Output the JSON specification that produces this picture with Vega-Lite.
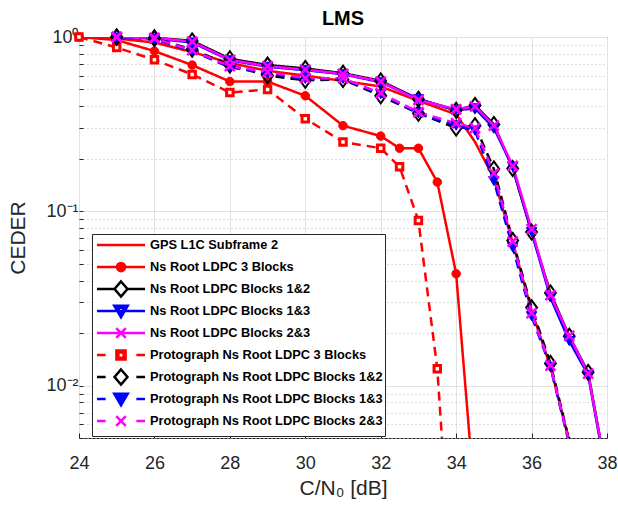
{
  "$schema": "https://vega.github.io/schema/vega-lite/v6.json",
  "width": 528,
  "height": 401,
  "autosize": {"type": "none"},
  "padding": {"left": 79, "top": 37, "right": 11, "bottom": 67},
  "background": "white",
  "config": {"view": {"stroke": "#262626", "strokeWidth": 1}, "font": "Liberation Sans"},
  "title": {"text": "LMS", "fontSize": 20, "fontWeight": "bold", "font": "Liberation Sans", "color": "black", "offset": -3, "anchor": "middle", "frame": "group"},
  "data": {"values": [
    {"s": "GPS L1C Subframe 2", "x": 24, "y": 1.0},
    {"s": "GPS L1C Subframe 2", "x": 25, "y": 0.98},
    {"s": "GPS L1C Subframe 2", "x": 26, "y": 0.93},
    {"s": "GPS L1C Subframe 2", "x": 27, "y": 0.82},
    {"s": "GPS L1C Subframe 2", "x": 28, "y": 0.71},
    {"s": "GPS L1C Subframe 2", "x": 29, "y": 0.64},
    {"s": "GPS L1C Subframe 2", "x": 30, "y": 0.6},
    {"s": "GPS L1C Subframe 2", "x": 31, "y": 0.56},
    {"s": "GPS L1C Subframe 2", "x": 32, "y": 0.52},
    {"s": "GPS L1C Subframe 2", "x": 33, "y": 0.43},
    {"s": "GPS L1C Subframe 2", "x": 34, "y": 0.36},
    {"s": "GPS L1C Subframe 2", "x": 34.5, "y": 0.25},
    {"s": "GPS L1C Subframe 2", "x": 35, "y": 0.155},
    {"s": "GPS L1C Subframe 2", "x": 35.5, "y": 0.066},
    {"s": "GPS L1C Subframe 2", "x": 36, "y": 0.027},
    {"s": "GPS L1C Subframe 2", "x": 36.5, "y": 0.0128},
    {"s": "GPS L1C Subframe 2", "x": 37, "y": 0.0048},
    {"s": "Ns Root LDPC 3 Blocks", "x": 24, "y": 1.0},
    {"s": "Ns Root LDPC 3 Blocks", "x": 25, "y": 0.96},
    {"s": "Ns Root LDPC 3 Blocks", "x": 26, "y": 0.83},
    {"s": "Ns Root LDPC 3 Blocks", "x": 27, "y": 0.69},
    {"s": "Ns Root LDPC 3 Blocks", "x": 28, "y": 0.555},
    {"s": "Ns Root LDPC 3 Blocks", "x": 29, "y": 0.555},
    {"s": "Ns Root LDPC 3 Blocks", "x": 30, "y": 0.46},
    {"s": "Ns Root LDPC 3 Blocks", "x": 31, "y": 0.31},
    {"s": "Ns Root LDPC 3 Blocks", "x": 32, "y": 0.27},
    {"s": "Ns Root LDPC 3 Blocks", "x": 32.5, "y": 0.23},
    {"s": "Ns Root LDPC 3 Blocks", "x": 33, "y": 0.23},
    {"s": "Ns Root LDPC 3 Blocks", "x": 33.5, "y": 0.147},
    {"s": "Ns Root LDPC 3 Blocks", "x": 34, "y": 0.0438},
    {"s": "Ns Root LDPC 3 Blocks", "x": 34.5, "y": 0.0021},
    {"s": "Ns Root LDPC Blocks 1&2", "x": 25, "y": 1.0},
    {"s": "Ns Root LDPC Blocks 1&2", "x": 26, "y": 0.99},
    {"s": "Ns Root LDPC Blocks 1&2", "x": 27, "y": 0.95},
    {"s": "Ns Root LDPC Blocks 1&2", "x": 28, "y": 0.75},
    {"s": "Ns Root LDPC Blocks 1&2", "x": 29, "y": 0.69},
    {"s": "Ns Root LDPC Blocks 1&2", "x": 30, "y": 0.66},
    {"s": "Ns Root LDPC Blocks 1&2", "x": 31, "y": 0.62},
    {"s": "Ns Root LDPC Blocks 1&2", "x": 32, "y": 0.56},
    {"s": "Ns Root LDPC Blocks 1&2", "x": 33, "y": 0.44},
    {"s": "Ns Root LDPC Blocks 1&2", "x": 34, "y": 0.38},
    {"s": "Ns Root LDPC Blocks 1&2", "x": 34.5, "y": 0.405},
    {"s": "Ns Root LDPC Blocks 1&2", "x": 35, "y": 0.315},
    {"s": "Ns Root LDPC Blocks 1&2", "x": 35.5, "y": 0.176},
    {"s": "Ns Root LDPC Blocks 1&2", "x": 36, "y": 0.076},
    {"s": "Ns Root LDPC Blocks 1&2", "x": 36.5, "y": 0.034},
    {"s": "Ns Root LDPC Blocks 1&2", "x": 37, "y": 0.0192},
    {"s": "Ns Root LDPC Blocks 1&2", "x": 37.5, "y": 0.0119},
    {"s": "Ns Root LDPC Blocks 1&2", "x": 38, "y": 0.003},
    {"s": "Ns Root LDPC Blocks 1&3", "x": 25, "y": 0.99},
    {"s": "Ns Root LDPC Blocks 1&3", "x": 26, "y": 0.98},
    {"s": "Ns Root LDPC Blocks 1&3", "x": 27, "y": 0.93},
    {"s": "Ns Root LDPC Blocks 1&3", "x": 28, "y": 0.735},
    {"s": "Ns Root LDPC Blocks 1&3", "x": 29, "y": 0.675},
    {"s": "Ns Root LDPC Blocks 1&3", "x": 30, "y": 0.645},
    {"s": "Ns Root LDPC Blocks 1&3", "x": 31, "y": 0.612},
    {"s": "Ns Root LDPC Blocks 1&3", "x": 32, "y": 0.55},
    {"s": "Ns Root LDPC Blocks 1&3", "x": 33, "y": 0.44},
    {"s": "Ns Root LDPC Blocks 1&3", "x": 34, "y": 0.38},
    {"s": "Ns Root LDPC Blocks 1&3", "x": 34.5, "y": 0.39},
    {"s": "Ns Root LDPC Blocks 1&3", "x": 35, "y": 0.3},
    {"s": "Ns Root LDPC Blocks 1&3", "x": 35.5, "y": 0.18},
    {"s": "Ns Root LDPC Blocks 1&3", "x": 36, "y": 0.076},
    {"s": "Ns Root LDPC Blocks 1&3", "x": 36.5, "y": 0.032},
    {"s": "Ns Root LDPC Blocks 1&3", "x": 37, "y": 0.018},
    {"s": "Ns Root LDPC Blocks 1&3", "x": 37.5, "y": 0.0115},
    {"s": "Ns Root LDPC Blocks 1&3", "x": 38, "y": 0.0029},
    {"s": "Ns Root LDPC Blocks 2&3", "x": 25, "y": 1.0},
    {"s": "Ns Root LDPC Blocks 2&3", "x": 26, "y": 0.99},
    {"s": "Ns Root LDPC Blocks 2&3", "x": 27, "y": 0.94},
    {"s": "Ns Root LDPC Blocks 2&3", "x": 28, "y": 0.74},
    {"s": "Ns Root LDPC Blocks 2&3", "x": 29, "y": 0.68},
    {"s": "Ns Root LDPC Blocks 2&3", "x": 30, "y": 0.65},
    {"s": "Ns Root LDPC Blocks 2&3", "x": 31, "y": 0.615},
    {"s": "Ns Root LDPC Blocks 2&3", "x": 32, "y": 0.555},
    {"s": "Ns Root LDPC Blocks 2&3", "x": 33, "y": 0.435},
    {"s": "Ns Root LDPC Blocks 2&3", "x": 34, "y": 0.385},
    {"s": "Ns Root LDPC Blocks 2&3", "x": 34.5, "y": 0.4},
    {"s": "Ns Root LDPC Blocks 2&3", "x": 35, "y": 0.31},
    {"s": "Ns Root LDPC Blocks 2&3", "x": 35.5, "y": 0.182},
    {"s": "Ns Root LDPC Blocks 2&3", "x": 36, "y": 0.079},
    {"s": "Ns Root LDPC Blocks 2&3", "x": 36.5, "y": 0.033},
    {"s": "Ns Root LDPC Blocks 2&3", "x": 37, "y": 0.0193},
    {"s": "Ns Root LDPC Blocks 2&3", "x": 37.5, "y": 0.0117},
    {"s": "Ns Root LDPC Blocks 2&3", "x": 38, "y": 0.003},
    {"s": "Protograph Ns Root LDPC 3 Blocks", "x": 24, "y": 1.0},
    {"s": "Protograph Ns Root LDPC 3 Blocks", "x": 25, "y": 0.87},
    {"s": "Protograph Ns Root LDPC 3 Blocks", "x": 26, "y": 0.74},
    {"s": "Protograph Ns Root LDPC 3 Blocks", "x": 27, "y": 0.61},
    {"s": "Protograph Ns Root LDPC 3 Blocks", "x": 28, "y": 0.48},
    {"s": "Protograph Ns Root LDPC 3 Blocks", "x": 29, "y": 0.5},
    {"s": "Protograph Ns Root LDPC 3 Blocks", "x": 30, "y": 0.34},
    {"s": "Protograph Ns Root LDPC 3 Blocks", "x": 31, "y": 0.25},
    {"s": "Protograph Ns Root LDPC 3 Blocks", "x": 32, "y": 0.23},
    {"s": "Protograph Ns Root LDPC 3 Blocks", "x": 32.5, "y": 0.18},
    {"s": "Protograph Ns Root LDPC 3 Blocks", "x": 33, "y": 0.0885},
    {"s": "Protograph Ns Root LDPC 3 Blocks", "x": 33.5, "y": 0.0125},
    {"s": "Protograph Ns Root LDPC 3 Blocks", "x": 34, "y": 0.0003},
    {"s": "Protograph Ns Root LDPC Blocks 1&2", "x": 25, "y": 1.0},
    {"s": "Protograph Ns Root LDPC Blocks 1&2", "x": 26, "y": 0.98},
    {"s": "Protograph Ns Root LDPC Blocks 1&2", "x": 27, "y": 0.85},
    {"s": "Protograph Ns Root LDPC Blocks 1&2", "x": 28, "y": 0.69},
    {"s": "Protograph Ns Root LDPC Blocks 1&2", "x": 29, "y": 0.6},
    {"s": "Protograph Ns Root LDPC Blocks 1&2", "x": 30, "y": 0.565},
    {"s": "Protograph Ns Root LDPC Blocks 1&2", "x": 31, "y": 0.57},
    {"s": "Protograph Ns Root LDPC Blocks 1&2", "x": 32, "y": 0.46},
    {"s": "Protograph Ns Root LDPC Blocks 1&2", "x": 33, "y": 0.365},
    {"s": "Protograph Ns Root LDPC Blocks 1&2", "x": 34, "y": 0.3},
    {"s": "Protograph Ns Root LDPC Blocks 1&2", "x": 34.5, "y": 0.31},
    {"s": "Protograph Ns Root LDPC Blocks 1&2", "x": 35, "y": 0.175},
    {"s": "Protograph Ns Root LDPC Blocks 1&2", "x": 35.5, "y": 0.068},
    {"s": "Protograph Ns Root LDPC Blocks 1&2", "x": 36, "y": 0.028},
    {"s": "Protograph Ns Root LDPC Blocks 1&2", "x": 36.5, "y": 0.0134},
    {"s": "Protograph Ns Root LDPC Blocks 1&2", "x": 37, "y": 0.0048},
    {"s": "Protograph Ns Root LDPC Blocks 1&3", "x": 25, "y": 0.99},
    {"s": "Protograph Ns Root LDPC Blocks 1&3", "x": 26, "y": 0.97},
    {"s": "Protograph Ns Root LDPC Blocks 1&3", "x": 27, "y": 0.83},
    {"s": "Protograph Ns Root LDPC Blocks 1&3", "x": 28, "y": 0.67},
    {"s": "Protograph Ns Root LDPC Blocks 1&3", "x": 29, "y": 0.62},
    {"s": "Protograph Ns Root LDPC Blocks 1&3", "x": 30, "y": 0.575},
    {"s": "Protograph Ns Root LDPC Blocks 1&3", "x": 31, "y": 0.575},
    {"s": "Protograph Ns Root LDPC Blocks 1&3", "x": 32, "y": 0.47},
    {"s": "Protograph Ns Root LDPC Blocks 1&3", "x": 33, "y": 0.365},
    {"s": "Protograph Ns Root LDPC Blocks 1&3", "x": 34, "y": 0.31},
    {"s": "Protograph Ns Root LDPC Blocks 1&3", "x": 34.5, "y": 0.29},
    {"s": "Protograph Ns Root LDPC Blocks 1&3", "x": 35, "y": 0.149},
    {"s": "Protograph Ns Root LDPC Blocks 1&3", "x": 35.5, "y": 0.062},
    {"s": "Protograph Ns Root LDPC Blocks 1&3", "x": 36, "y": 0.025},
    {"s": "Protograph Ns Root LDPC Blocks 1&3", "x": 36.5, "y": 0.0128},
    {"s": "Protograph Ns Root LDPC Blocks 1&3", "x": 37, "y": 0.0046},
    {"s": "Protograph Ns Root LDPC Blocks 2&3", "x": 25, "y": 1.0},
    {"s": "Protograph Ns Root LDPC Blocks 2&3", "x": 26, "y": 0.98},
    {"s": "Protograph Ns Root LDPC Blocks 2&3", "x": 27, "y": 0.84},
    {"s": "Protograph Ns Root LDPC Blocks 2&3", "x": 28, "y": 0.68},
    {"s": "Protograph Ns Root LDPC Blocks 2&3", "x": 29, "y": 0.63},
    {"s": "Protograph Ns Root LDPC Blocks 2&3", "x": 30, "y": 0.58},
    {"s": "Protograph Ns Root LDPC Blocks 2&3", "x": 31, "y": 0.58},
    {"s": "Protograph Ns Root LDPC Blocks 2&3", "x": 32, "y": 0.476},
    {"s": "Protograph Ns Root LDPC Blocks 2&3", "x": 33, "y": 0.37},
    {"s": "Protograph Ns Root LDPC Blocks 2&3", "x": 34, "y": 0.32},
    {"s": "Protograph Ns Root LDPC Blocks 2&3", "x": 34.5, "y": 0.3},
    {"s": "Protograph Ns Root LDPC Blocks 2&3", "x": 35, "y": 0.165},
    {"s": "Protograph Ns Root LDPC Blocks 2&3", "x": 35.5, "y": 0.067},
    {"s": "Protograph Ns Root LDPC Blocks 2&3", "x": 36, "y": 0.026},
    {"s": "Protograph Ns Root LDPC Blocks 2&3", "x": 36.5, "y": 0.013},
    {"s": "Protograph Ns Root LDPC Blocks 2&3", "x": 37, "y": 0.0047}
  ]},
  "encoding": {
    "x": {
      "field": "x", "type": "quantitative", "title": "C/N₀ [dB]",
      "scale": {"domain": [24, 38], "nice": false, "zero": false},
      "axis": {
        "values": [24, 26, 28, 30, 32, 34, 36, 38],
        "grid": true, "gridColor": "#e2e2e2", "gridWidth": 1,
        "domain": false, "tickSize": -5, "tickColor": "#262626",
        "labelFontSize": 18, "labelColor": "#262626", "labelFont": "Liberation Sans",
        "labelPadding": 21, "labelFlush": false, "labelOverlap": false,
        "titleFontSize": 21, "titleFontWeight": "normal", "titleColor": "#262626",
        "titleFont": "Liberation Sans", "titlePadding": 5
      }
    },
    "y": {
      "field": "y", "type": "quantitative", "title": "CEDER",
      "scale": {"type": "log", "domain": [0.005, 1], "nice": false},
      "axis": {
        "values": [0.005, 0.006, 0.007, 0.008, 0.009, 0.01, 0.02, 0.03, 0.04, 0.05, 0.06, 0.07, 0.08, 0.09, 0.1, 0.2, 0.3, 0.4, 0.5, 0.6, 0.7, 0.8, 0.9, 1],
        "labelExpr": "datum.value == 1 ? '10⁰' : (datum.value == 0.1 ? '10⁻¹' : (datum.value == 0.01 ? '10⁻²' : ''))",
        "grid": true,
        "gridColor": {"condition": {"test": "datum.value == 1 || datum.value == 0.1 || datum.value == 0.01", "value": "#e2e2e2"}, "value": "#bdbdbd"},
        "gridDash": {"condition": {"test": "datum.value == 1 || datum.value == 0.1 || datum.value == 0.01", "value": []}, "value": [1, 3]},
        "domain": false, "tickSize": -4, "tickColor": "#262626",
        "labelFontSize": 18, "labelColor": "#262626", "labelFont": "Liberation Sans",
        "labelPadding": 5, "labelOverlap": false,
        "titleFontSize": 21, "titleFontWeight": "normal", "titleColor": "#262626",
        "titleFont": "Liberation Sans", "titlePadding": 17
      }
    }
  },
  "layer": [
    {
      "mark": {"type": "line", "strokeWidth": 2.5, "clip": true},
      "encoding": {
        "stroke": {"field": "s", "type": "nominal", "legend": null,
          "scale": {"domain": ["Protograph Ns Root LDPC Blocks 2&3", "Protograph Ns Root LDPC Blocks 1&3", "Protograph Ns Root LDPC Blocks 1&2", "Protograph Ns Root LDPC 3 Blocks", "Ns Root LDPC Blocks 2&3", "Ns Root LDPC Blocks 1&3", "Ns Root LDPC Blocks 1&2", "Ns Root LDPC 3 Blocks", "GPS L1C Subframe 2"],
                    "range": ["#FF00FF", "#0000FF", "#000000", "#FF0000", "#FF00FF", "#0000FF", "#000000", "#FF0000", "#FF0000"]}},
        "strokeDash": {"field": "s", "type": "nominal", "legend": null,
          "scale": {"domain": ["Protograph Ns Root LDPC Blocks 2&3", "Protograph Ns Root LDPC Blocks 1&3", "Protograph Ns Root LDPC Blocks 1&2", "Protograph Ns Root LDPC 3 Blocks", "Ns Root LDPC Blocks 2&3", "Ns Root LDPC Blocks 1&3", "Ns Root LDPC Blocks 1&2", "Ns Root LDPC 3 Blocks", "GPS L1C Subframe 2"],
                    "range": [[9, 6], [9, 6], [9, 6], [9, 6], [1, 0], [1, 0], [1, 0], [1, 0], [1, 0]]}}
      }
    },
    {
      "transform": [{"filter": "datum.s == 'Ns Root LDPC 3 Blocks' && datum.y >= 0.005"}],
      "mark": {"type": "point", "shape": "circle", "size": 72, "filled": true, "fill": "#FF0000", "stroke": "#FF0000", "strokeWidth": 1, "opacity": 1}
    },
    {
      "transform": [{"filter": "datum.s == 'Protograph Ns Root LDPC 3 Blocks' && datum.y >= 0.005"}],
      "mark": {"type": "point", "shape": "square", "size": 42, "filled": true, "fill": "white", "stroke": "#FF0000", "strokeWidth": 3, "opacity": 1}
    },
    {
      "transform": [{"filter": "(datum.s == 'Ns Root LDPC Blocks 1&2' || datum.s == 'Protograph Ns Root LDPC Blocks 1&2') && datum.y >= 0.005"}],
      "mark": {"type": "point", "shape": "M0,-1L0.72,0L0,1L-0.72,0Z", "size": 225, "filled": false, "stroke": "#000000", "strokeWidth": 2, "opacity": 1}
    },
    {
      "transform": [{"filter": "(datum.s == 'Ns Root LDPC Blocks 1&3' || datum.s == 'Protograph Ns Root LDPC Blocks 1&3') && datum.y >= 0.005"}],
      "mark": {"type": "point", "shape": "triangle-down", "size": 110, "filled": true, "fill": "#0000FF", "stroke": "#0000FF", "strokeWidth": 1, "opacity": 1}
    },
    {
      "transform": [{"filter": "(datum.s == 'Ns Root LDPC Blocks 2&3' || datum.s == 'Protograph Ns Root LDPC Blocks 2&3') && datum.y >= 0.005"}],
      "mark": {"type": "point", "shape": "M-1,-1L1,1M-1,1L1,-1", "size": 100, "filled": false, "stroke": "#FF00FF", "strokeWidth": 2.5, "opacity": 1}
    },
    {
      "transform": [{"filter": "datum.y < 0.005"}],
      "mark": {"type": "point", "filled": false, "opacity": 1, "strokeWidth": 2.5, "clip": true},
      "encoding": {
        "color": {"field": "s", "type": "nominal",
          "scale": {"domain": ["GPS L1C Subframe 2", "Ns Root LDPC 3 Blocks", "Ns Root LDPC Blocks 1&2", "Ns Root LDPC Blocks 1&3", "Ns Root LDPC Blocks 2&3", "Protograph Ns Root LDPC 3 Blocks", "Protograph Ns Root LDPC Blocks 1&2", "Protograph Ns Root LDPC Blocks 1&3", "Protograph Ns Root LDPC Blocks 2&3"],
                    "range": ["#FF0000", "#FF0000", "#000000", "#0000FF", "#FF00FF", "#FF0000", "#000000", "#0000FF", "#FF00FF"]},
          "legend": {"title": null, "orient": "none", "legendX": 13, "legendY": 197, "symbolSize": 225, "symbolStrokeWidth": 2.5, "symbolOffset": 18, "labelFontSize": 12.8, "labelFont": "Liberation Sans", "labelFontWeight": "bold", "labelColor": "black", "labelOffset": 20, "labelLimit": 400, "padding": 2, "rowPadding": -18, "strokeColor": "#262626", "fillColor": "white"}},
        "shape": {"field": "s", "type": "nominal",
          "scale": {"domain": ["GPS L1C Subframe 2", "Ns Root LDPC 3 Blocks", "Ns Root LDPC Blocks 1&2", "Ns Root LDPC Blocks 1&3", "Ns Root LDPC Blocks 2&3", "Protograph Ns Root LDPC 3 Blocks", "Protograph Ns Root LDPC Blocks 1&2", "Protograph Ns Root LDPC Blocks 1&3", "Protograph Ns Root LDPC Blocks 2&3"],
                    "range": [
                      "M0,-1M0,1M-3.2,0L3.2,0",
                      "M0,-1M0,1M-3.2,0L3.2,0M-0.55,0A0.55,0.55 0 1,0 0.55,0A0.55,0.55 0 1,0 -0.55,0M-0.26,0A0.26,0.26 0 1,0 0.26,0A0.26,0.26 0 1,0 -0.26,0",
                      "M-3.2,0L-0.86,0M0.86,0L3.2,0M0,-1L0.86,0L0,1L-0.86,0Z",
                      "M0,-1M0,1M-3.2,0L3.2,0M-0.9,-0.7L0.9,-0.7L0,0.83ZM-0.42,-0.42L0.42,-0.42L0,0.32Z",
                      "M0,-1M0,1M-3.2,0L3.2,0M-0.64,-0.64L0.64,0.64M-0.64,0.64L0.64,-0.64",
                      "M0,-1M0,1M-3.2,0L-2.05,0M2.05,0L3.2,0M-0.61,-0.61L0.61,-0.61L0.61,0.61L-0.61,0.61ZM-0.35,-0.35L0.35,-0.35L0.35,0.35L-0.35,0.35Z",
                      "M-3.2,0L-2.05,0M2.05,0L3.2,0M0,-1L0.86,0L0,1L-0.86,0Z",
                      "M0,-1M0,1M-3.2,0L-2.05,0M2.05,0L3.2,0M-0.9,-0.7L0.9,-0.7L0,0.83ZM-0.42,-0.42L0.42,-0.42L0,0.32ZM-0.16,-0.16L0.16,-0.16",
                      "M0,-1M0,1M-3.2,0L-2.05,0M2.05,0L3.2,0M-0.64,-0.64L0.64,0.64M-0.64,0.64L0.64,-0.64"
                    ]},
          "legend": {"title": null, "orient": "none", "legendX": 13, "legendY": 197, "symbolSize": 225, "symbolStrokeWidth": 2.5, "symbolOffset": 18, "labelFontSize": 12.8, "labelFont": "Liberation Sans", "labelFontWeight": "bold", "labelColor": "black", "labelOffset": 20, "labelLimit": 400, "padding": 2, "rowPadding": -18, "strokeColor": "#262626", "fillColor": "white"}}
      }
    }
  ]
}
